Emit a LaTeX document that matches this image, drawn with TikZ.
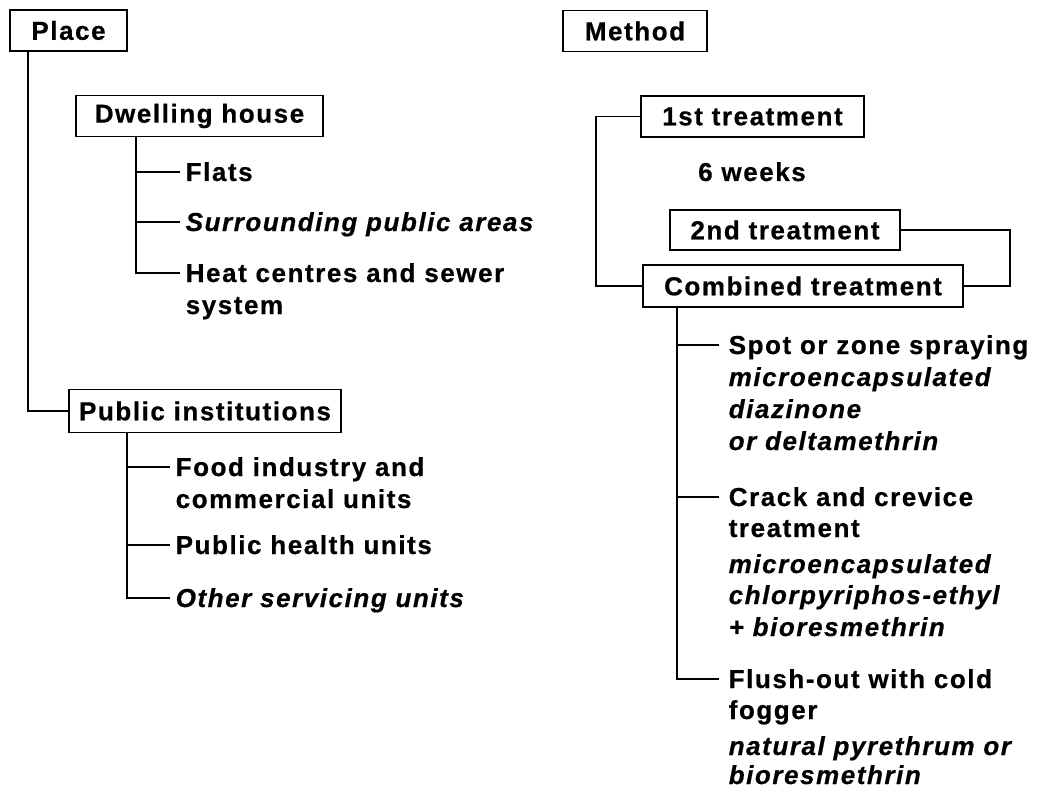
\documentclass[tikz,border=0pt]{standalone}
\usepackage{fontspec}
\setmainfont{Liberation Sans}[LetterSpace=6, BoldFeatures={FakeBold=0.6}, BoldItalicFeatures={FakeBold=0.6}]
\begin{document}
\begin{tikzpicture}[x=1pt,y=-1pt,
  line width=1.5pt,
  every node/.style={font=\fontsize{26}{32}\selectfont\bfseries},
  boxn/.style={draw, line width=1.5pt, inner sep=0pt, minimum height=41pt},
  item/.style={anchor=base west, inner sep=0pt, text height=18pt, text depth=0pt},
  itm/.style={item, font=\fontsize{26}{32}\selectfont\bfseries\itshape}
]
\useasboundingbox (0,0) rectangle (1045,789);

% ---------- Left: Place ----------
\node[boxn, minimum width=117pt] (place) at (68.5,30.5) {Place};
\node[boxn, minimum width=247pt] (dwell) at (199.5,116) {Dwelling house};
\node[boxn, minimum width=272pt, minimum height=43pt] (pinst) at (205,411) {Public institutions};

\coordinate (ptrunk) at (28,0);
\coordinate (dstem) at (136,0);
\coordinate (pstem) at (127,0);

\node[item] (flats) at (185,181) {Flats};
\node[itm]  (surr)  at (185,231) {Surrounding public areas};
\node[item] (heat)  at (185,282) {Heat centres and sewer};
\node[item] (heat2) at (185,314) {system};

\node[item] (food)  at (175,476) {Food industry and};
\node[item] (food2) at (175,508) {commercial units};
\node[item] (phu)   at (175,554) {Public health units};
\node[itm]  (other) at (175,607) {Other servicing units};

\draw (place.south -| ptrunk) |- (pinst.west);
\draw (dwell.south -| dstem) |- ([xshift=-5pt]heat.west);
\draw (dstem |- flats.west) -- ([xshift=-5pt]flats.west);
\draw (dstem |- surr.west) -- ([xshift=-5pt]surr.west);
\draw (pinst.south -| pstem) |- ([xshift=-5pt]other.west);
\draw (pstem |- food.west) -- ([xshift=-5pt]food.west);
\draw (pstem |- phu.west) -- ([xshift=-5pt]phu.west);

% ---------- Right: Method ----------
\node[boxn, minimum width=144pt] (method) at (635,31) {Method};
\node[boxn, minimum width=223pt] (first) at (752.5,116.5) {1st treatment};
\node[anchor=base, inner sep=0pt] (weeks) at (752,181) {6 weeks};
\node[boxn, minimum width=230pt, minimum height=40pt] (second) at (785,230) {2nd treatment};
\node[boxn, minimum width=320pt, minimum height=42pt] (comb) at (803,286) {Combined treatment};

\coordinate (lbr) at (596,0);
\coordinate (rbr) at (1010,0);
\coordinate (cstem) at (677,0);

\draw (first.west) -- (lbr |- first.west) |- (comb.west);
\draw (second.east) -- (rbr |- second.east) |- (comb.east);

\node[item] (spot)  at (728,354) {Spot or zone spraying};
\node[itm]  (spot2) at (728,386) {microencapsulated};
\node[itm]  (spot3) at (728,418) {diazinone};
\node[itm]  (spot4) at (728,450) {or deltamethrin};

\node[item] (crack)  at (728,506) {Crack and crevice};
\node[item] (crack2) at (728,537) {treatment};
\node[itm]  (crack3) at (728,573) {microencapsulated};
\node[itm]  (crack4) at (728,604) {chlorpyriphos-ethyl};
\node[itm]  (crack5) at (728,636) {+ bioresmethrin};

\node[item] (flush)  at (728,688) {Flush-out with cold};
\node[item] (flush2) at (728,719) {fogger};
\node[itm]  (flush3) at (728,755) {natural pyrethrum or};
\node[itm]  (flush4) at (728,784) {bioresmethrin};

\draw (comb.south -| cstem) |- ([xshift=-9pt]flush.west);
\draw (cstem |- spot.west) -- ([xshift=-9pt]spot.west);
\draw (cstem |- crack.west) -- ([xshift=-9pt]crack.west);
\end{tikzpicture}
\end{document}
